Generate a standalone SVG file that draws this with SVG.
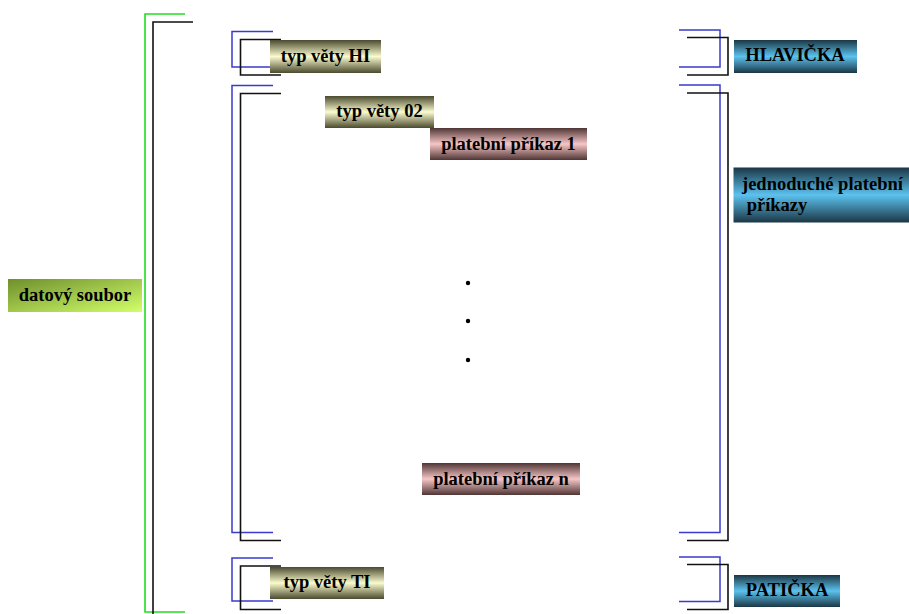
<svg xmlns="http://www.w3.org/2000/svg" width="909" height="614" viewBox="0 0 909 614">
<defs>
<linearGradient id="olive" x1="0" y1="0" x2="0" y2="1">
<stop offset="0" stop-color="#4a4a2e"/><stop offset="0.5" stop-color="#fbfbcf"/><stop offset="1" stop-color="#4a4a2e"/>
</linearGradient>
<linearGradient id="pink" x1="0" y1="0" x2="0" y2="1">
<stop offset="0" stop-color="#4f3535"/><stop offset="0.5" stop-color="#f6c6c6"/><stop offset="1" stop-color="#4f3535"/>
</linearGradient>
<linearGradient id="blue" x1="0" y1="0" x2="0" y2="1">
<stop offset="0" stop-color="#1b3644"/><stop offset="0.5" stop-color="#5cc2ee"/><stop offset="1" stop-color="#1b3644"/>
</linearGradient>
<linearGradient id="green" x1="0" y1="0" x2="1" y2="1">
<stop offset="0" stop-color="#6f8f2c"/><stop offset="1" stop-color="#d2ff6a"/>
</linearGradient>
</defs>
<style>
.t{font-family:"Liberation Serif","Times New Roman",serif;font-weight:bold;font-size:18.5px;fill:#000}
.c{text-anchor:middle}
.bl{fill:none;stroke:#3a3ad0;stroke-width:1.5}
.bk{fill:none;stroke:#111;stroke-width:1.6}
.gr{fill:none;stroke:#22dd22;stroke-width:1.6}
</style>
<rect width="909" height="614" fill="#fff"/>
<g id="connectors">
<polyline class="gr" points="185,14 145,14 145,612 185,612"/>
<polyline class="bk" points="193,22 153,22 153,614"/>
<polyline class="bl" points="273,31.5 232,31.5 232,67 273,67"/>
<polyline class="bk" points="281,39.5 240.5,39.5 240.5,75 281,75"/>
<polyline class="bl" points="273,85.5 232,85.5 232,532.5 273,532.5"/>
<polyline class="bk" points="281,93.5 240.5,93.5 240.5,540.5 281,540.5"/>
<polyline class="bl" points="273,558 232,558 232,601 273,601"/>
<polyline class="bk" points="281,566 240.5,566 240.5,609.5 281,609.5"/>
<polyline class="bl" points="679,30 720,30 720,67 679,67"/>
<polyline class="bk" points="687,37.5 728,37.5 728,75 687,75"/>
<polyline class="bl" points="679,85 720,85 720,532.5 679,532.5"/>
<polyline class="bk" points="687,93 728,93 728,540.5 687,540.5"/>
<polyline class="bl" points="679,557 720,557 720,601.5 679,601.5"/>
<polyline class="bk" points="687,564.5 728,564.5 728,609.5 687,609.5"/>
</g>
<g id="datovy-soubor"><rect x="8" y="279" width="134" height="33" fill="url(#green)"/><text class="t c" x="75" y="301">datový soubor</text></g>
<g id="typ-vety-hi"><rect x="270" y="40" width="111" height="33" fill="url(#olive)"/><text class="t c" x="325.5" y="62">typ věty HI</text></g>
<g id="typ-vety-02"><rect x="325" y="96" width="109" height="32" fill="url(#olive)"/><text class="t c" x="379.5" y="117">typ věty 02</text></g>
<g id="platebni-prikaz-1"><rect x="430" y="128" width="157" height="32" fill="url(#pink)"/><text class="t c" x="508.5" y="149.5">platební příkaz 1</text></g>
<g id="tecky">
<circle cx="468" cy="283" r="2.2" fill="#000"/>
<circle cx="468" cy="321" r="2.2" fill="#000"/>
<circle cx="468" cy="360" r="2.2" fill="#000"/>
</g>
<g id="platebni-prikaz-n"><rect x="422" y="463" width="158" height="32" fill="url(#pink)"/><text class="t c" x="501" y="484.5">platební příkaz n</text></g>
<g id="typ-vety-ti"><rect x="270" y="567" width="114" height="32" fill="url(#olive)"/><text class="t c" x="327" y="588">typ věty TI</text></g>
<g id="hlavicka"><rect x="734" y="40" width="123" height="33" fill="url(#blue)"/><text class="t c" x="795" y="61">HLAVIČKA</text></g>
<g id="jednoduche"><rect x="733.5" y="167.5" width="175.5" height="55" fill="url(#blue)"/><text class="t" x="742" y="190">jednoduché platební</text><text class="t" x="742" y="211" xml:space="preserve"> příkazy</text></g>
<g id="paticka"><rect x="734" y="575" width="106" height="32" fill="url(#blue)"/><text class="t c" x="787" y="596">PATIČKA</text></g>
</svg>
